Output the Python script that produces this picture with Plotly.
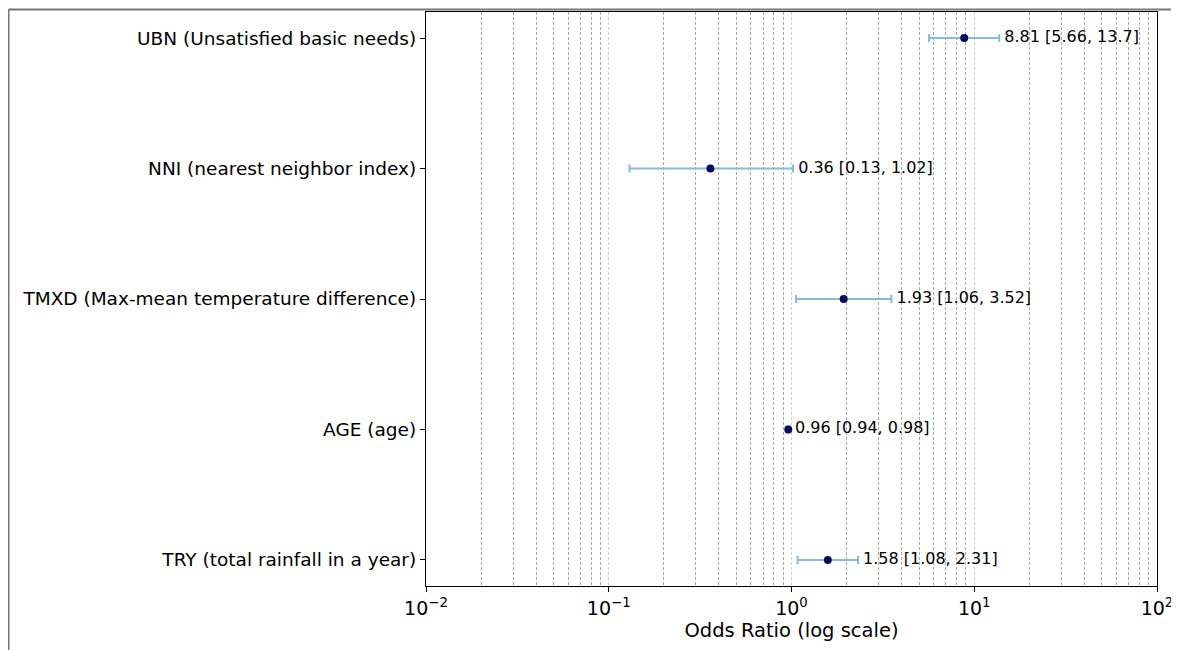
import plotly.graph_objects as go

labels = ["UBN (Unsatisfied basic needs)", "NNI (nearest neighbor index)",
          "TMXD (Max-mean temperature difference)", "AGE (age)",
          "TRY (total rainfall in a year)"]
odds = [8.81, 0.36, 1.93, 0.96, 1.58]
lower = [5.66, 0.13, 1.06, 0.94, 1.08]
upper = [13.7, 1.02, 3.52, 0.98, 2.31]
text_labels = ["8.81 [5.66, 13.7]", "0.36 [0.13, 1.02]", "1.93 [1.06, 3.52]",
               "0.96 [0.94, 0.98]", "1.58 [1.08, 2.31]"]
x_tickvals = [0.01, 0.1, 1, 10, 100]
x_ticktext = ["10<sup>−2</sup>", "10<sup>−1</sup>", "10<sup>0</sup>", "10<sup>1</sup>", "10<sup>2</sup>"]

n = len(labels)
ypos = [n - 1 - i for i in range(n)]

# page body has an 8px margin, so compensate
W, H = 1171, 642
L, T = 418, 4
pw, ph = 731, 574
R, B = W - L - pw, H - T - ph

fig = go.Figure()
fig.add_trace(go.Scatter(
    x=odds, y=ypos, mode="markers",
    marker=dict(color="#0b0b5e", size=8),
    error_x=dict(type="data", symmetric=False,
                 array=[u - o for u, o in zip(upper, odds)],
                 arrayminus=[o - l for o, l in zip(odds, lower)],
                 color="#86bcd8", thickness=2, width=4),
    showlegend=False, hoverinfo="skip"))
fig.add_trace(go.Scatter(
    x=upper, y=ypos, mode="text", text=[" " + t for t in text_labels],
    textposition="middle right",
    textfont=dict(family="DejaVu Sans", size=16, color="black"),
    showlegend=False, hoverinfo="skip", cliponaxis=False))

fig.add_shape(type="line", xref="x", yref="paper", x0=0, x1=0, y0=0, y1=1,
              line=dict(color="#444", width=1, dash="dash"))
# outer frame lines
fig.add_shape(type="line", xref="paper", yref="paper",
              x0=(0.5 - L) / pw, x1=(W - L) / pw,
              y0=1 + 2.5 / ph, y1=1 + 2.5 / ph,
              line=dict(color="#777", width=2))
fig.add_shape(type="line", xref="paper", yref="paper",
              x0=(0.75 - L) / pw, x1=(0.75 - L) / pw,
              y0=-B / ph, y1=1 + 2.5 / ph,
              line=dict(color="#777", width=1.5))

fig.update_layout(
    width=W, height=H,
    margin=dict(l=L, r=R, t=T, b=B, autoexpand=False),
    plot_bgcolor="white", paper_bgcolor="white",
    font=dict(family="DejaVu Sans", color="black"),
    xaxis=dict(type="log", range=[-2, 2], tickvals=x_tickvals, ticktext=x_ticktext,
               tickfont=dict(size=19), ticks="outside", ticklen=5, tickcolor="black",
               showline=True, linecolor="black", linewidth=1.2, mirror=True,
               showgrid=True, gridcolor="#d0d0d0", griddash="3px,2px", gridwidth=0.6,
               zeroline=False, automargin=False,
               title=dict(text="Odds Ratio (log scale)", font=dict(size=19.5), standoff=4),
               minor=dict(dtick="D1", showgrid=True, gridcolor="#a8a8a8",
                          griddash="3px,2px", gridwidth=0.6, ticks="")),
    yaxis=dict(range=[-0.2, 4.2], tickvals=ypos, ticktext=labels,
               tickfont=dict(size=18.5), ticks="outside", ticklen=5, tickcolor="black",
               showline=True, linecolor="black", linewidth=1.2, mirror=True,
               showgrid=False, zeroline=False, automargin=False),
)
fig.write_html("out.html")
